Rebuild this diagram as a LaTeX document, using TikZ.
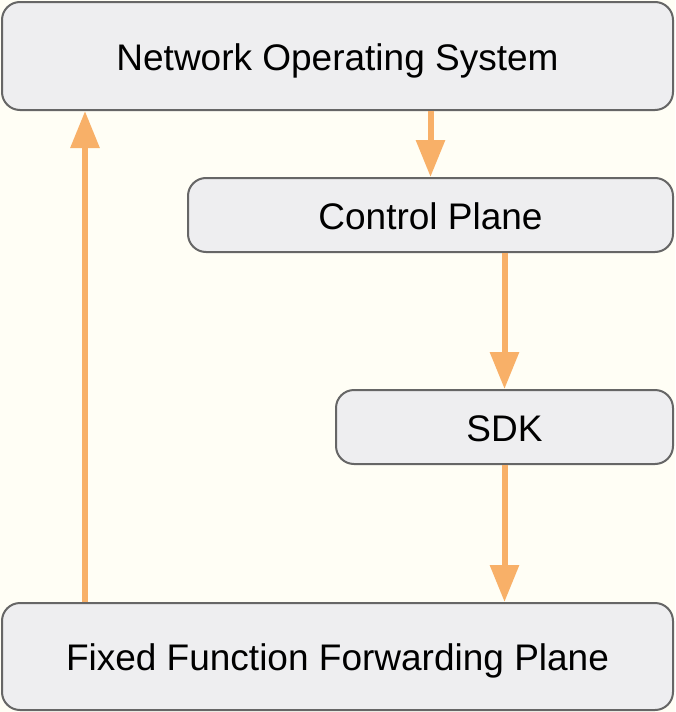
\documentclass[tikz,border=0pt]{standalone}
\usepackage{fontspec}
\setmainfont{Liberation Sans}
\usetikzlibrary{arrows.meta}
\definecolor{bgcream}{HTML}{FFFEF5}
\definecolor{boxfill}{HTML}{EEEEF0}
\definecolor{boxline}{HTML}{666666}
\definecolor{arroworange}{HTML}{F8B068}
\begin{document}
\begin{tikzpicture}[x=1pt,y=-1pt,
  box/.style={draw=boxline, line width=2pt, fill=boxfill, rounded corners=18pt,
    inner sep=0pt, align=center, text height=28pt, text depth=0pt,
    font=\fontsize{37}{44}\selectfont},
  flow/.style={draw=arroworange, line width=6pt,
    -{Triangle[width=28pt,length=37pt]}, arroworange}]
  \fill[bgcream] (0,0) rectangle (675,712);
  \useasboundingbox (0,0) rectangle (675,712);
  \node[box, minimum width=671pt, minimum height=108pt] (nos) at (337.5,56) {Network Operating System};
  \node[box, minimum width=485pt, minimum height=74pt] (cp) at (430.5,215) {Control Plane};
  \node[box, minimum width=337pt, minimum height=74pt] (sdk) at (504.5,427) {SDK};
  \node[box, minimum width=671pt, minimum height=107pt] (ffp) at (337.5,656.5) {Fixed Function Forwarding Plane};
  \coordinate (upx) at (85,0);
  \draw[flow] (nos.south -| cp.north) -- (cp.north);
  \draw[flow] (cp.south -| sdk.north) -- (sdk.north);
  \draw[flow] (sdk.south) -- (ffp.north -| sdk.south);
  \draw[flow] (ffp.north -| upx) -- (nos.south -| upx);
\end{tikzpicture}
\end{document}
